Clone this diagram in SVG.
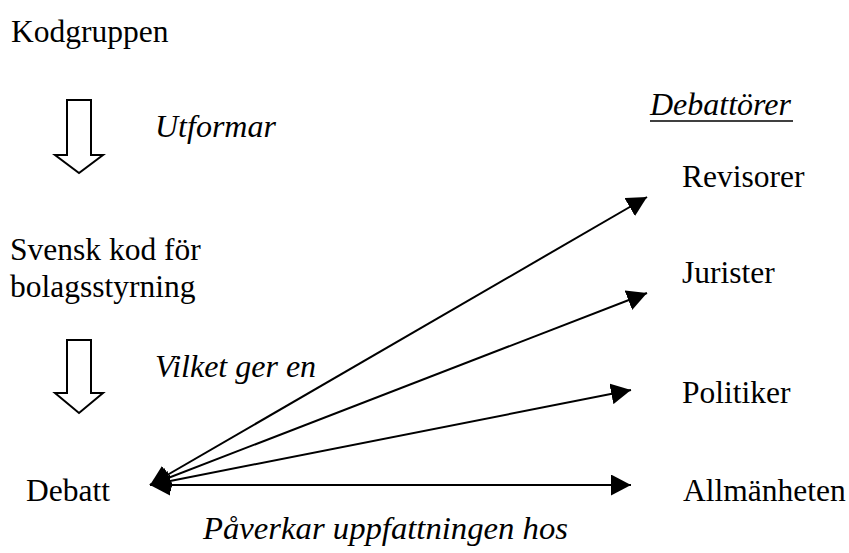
<svg xmlns="http://www.w3.org/2000/svg" width="849" height="553" viewBox="0 0 849 553">
<style>
.t{font-family:'Liberation Serif',serif;font-size:31.5px;fill:#000}
.it{font-family:'Liberation Serif',serif;font-size:32px;font-style:italic;fill:#000}
.blk{fill:#fff;stroke:#000;stroke-width:2;stroke-linejoin:miter}
.con{stroke:#000;stroke-width:2;fill:none;marker-start:url(#ah);marker-end:url(#ah)}
</style>
<defs>
<marker id="ah" viewBox="0 0 20 21" refX="20" refY="10.5" markerWidth="20" markerHeight="21" markerUnits="userSpaceOnUse" orient="auto-start-reverse">
<path d="M0,0 L20,10.5 L0,21 Z" fill="#000"/>
</marker>
</defs>
<rect width="849" height="553" fill="#fff"/>
<g id="kodgruppen"><text class="t" x="11" y="42">Kodgruppen</text></g>
<g id="arrow1"><path class="blk" d="M67,100 H91 V155 H103 L79,173 L55,155 H67 Z"/></g>
<g id="utformar"><text class="it" x="155" y="137">Utformar</text></g>
<g id="svensk-kod"><text class="t" x="10" y="260">Svensk kod för</text><text class="t" x="10" y="297">bolagsstyrning</text></g>
<g id="arrow2"><path class="blk" d="M67,340 H91 V393 H103 L79,413 L55,393 H67 Z"/></g>
<g id="vilket"><text class="it" x="155" y="377">Vilket ger en</text></g>
<g id="debatt"><text class="t" x="26" y="501">Debatt</text></g>
<g id="debattorer"><text class="it" x="650" y="115">Debattörer</text><line x1="650" y1="121" x2="793" y2="121" stroke="#000" stroke-width="1.5"/></g>
<g id="revisorer"><text class="t" x="682" y="187">Revisorer</text></g>
<g id="jurister"><text class="t" x="682" y="283">Jurister</text></g>
<g id="politiker"><text class="t" x="682" y="403">Politiker</text></g>
<g id="allmanheten"><text class="t" x="683" y="501">Allmänheten</text></g>
<g id="paverkar"><text class="it" x="203" y="539" textLength="365" lengthAdjust="spacingAndGlyphs">Påverkar uppfattningen hos</text></g>
<g id="connectors">
<line class="con" x1="150" y1="485" x2="647" y2="197"/>
<line class="con" x1="150" y1="485" x2="647" y2="293"/>
<line class="con" x1="150" y1="485" x2="631" y2="390"/>
<line class="con" x1="150" y1="485" x2="631" y2="485"/>
</g>
</svg>
